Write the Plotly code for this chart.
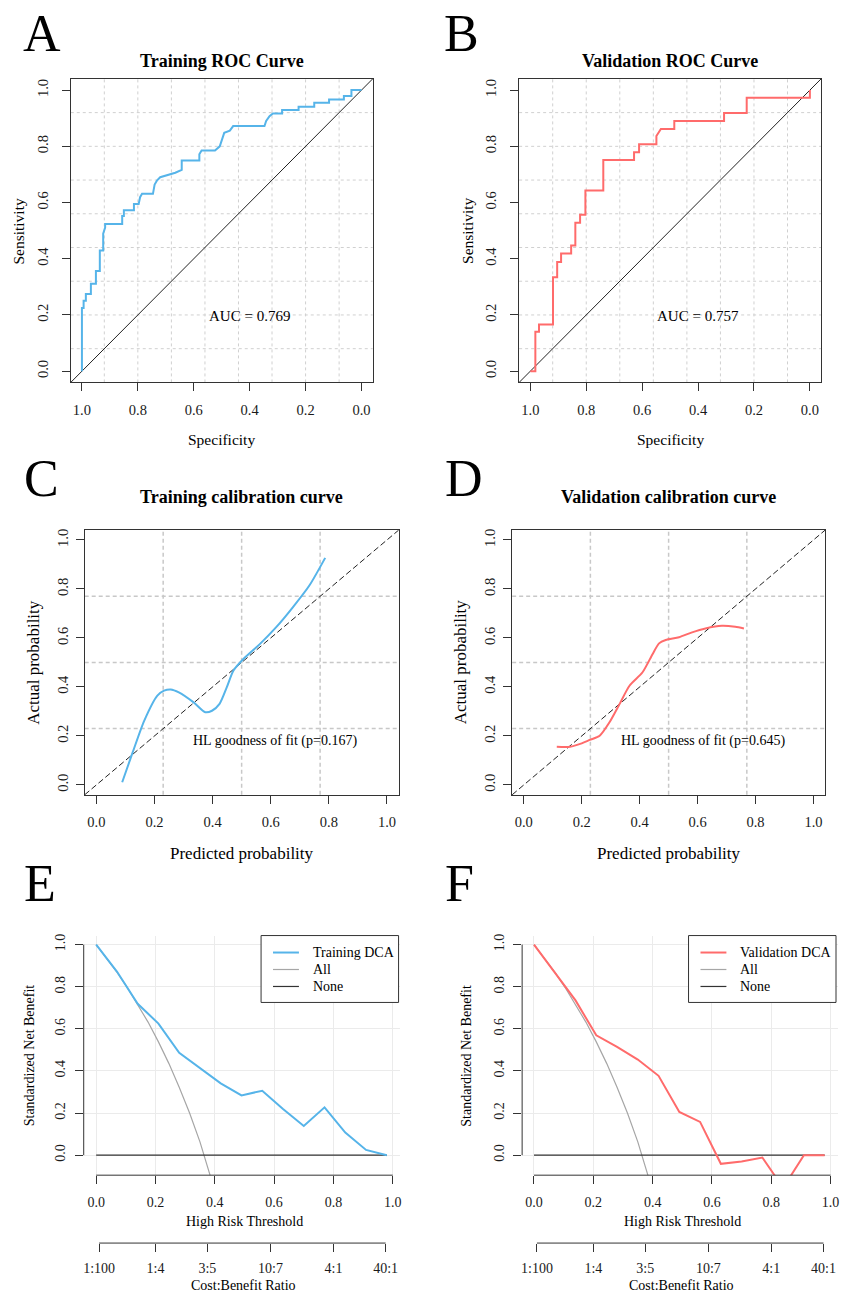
import plotly.graph_objects as go

W, H = 841, 1292
FONT = "Liberation Serif, 'Times New Roman', Times, serif"
BLUE = "#56B4E9"
RED = "#FF6B6B"
GRAY = "#A6A6A6"
NONEC = "#333333"
INK = "#1a1a1a"
AXC = "#333333"

# ---------------- data ----------------
# ROC (specificity, sensitivity)
train_spec = [1.0, 1.0, 0.994, 0.994, 0.986, 0.986, 0.968, 0.968, 0.950, 0.950, 0.936, 0.936,
              0.924, 0.924, 0.917, 0.917, 0.856, 0.856, 0.850, 0.850, 0.814, 0.814, 0.797, 0.792,
              0.785, 0.746, 0.740, 0.731, 0.720, 0.684, 0.666, 0.643, 0.643, 0.580, 0.580, 0.572,
              0.524, 0.507, 0.501, 0.497, 0.491, 0.471, 0.465, 0.459, 0.347, 0.341, 0.329, 0.317,
              0.284, 0.284, 0.225, 0.225, 0.169, 0.169, 0.116, 0.116, 0.063, 0.063, 0.036, 0.036, 0.0]
train_sens = [0.0, 0.225, 0.225, 0.251, 0.251, 0.275, 0.275, 0.311, 0.311, 0.356, 0.356, 0.429,
              0.429, 0.489, 0.511, 0.524, 0.524, 0.552, 0.552, 0.573, 0.573, 0.595, 0.595, 0.619,
              0.631, 0.631, 0.664, 0.679, 0.690, 0.700, 0.706, 0.716, 0.750, 0.750, 0.772, 0.785,
              0.785, 0.800, 0.818, 0.830, 0.848, 0.856, 0.866, 0.872, 0.872, 0.890, 0.907, 0.917,
              0.917, 0.929, 0.929, 0.941, 0.941, 0.955, 0.955, 0.967, 0.967, 0.979, 0.979, 1.0, 1.0]
val_spec = [1.0, 0.982, 0.982, 0.969, 0.969, 0.919, 0.919, 0.904, 0.904, 0.890, 0.890, 0.854,
            0.854, 0.839, 0.839, 0.822, 0.822, 0.803, 0.803, 0.739, 0.739, 0.629, 0.629, 0.611,
            0.611, 0.549, 0.549, 0.533, 0.485, 0.485, 0.307, 0.307, 0.226, 0.226, 0.0, 0.0]
val_sens = [0.0, 0.0, 0.140, 0.140, 0.166, 0.166, 0.334, 0.334, 0.388, 0.388, 0.419, 0.419,
            0.447, 0.447, 0.528, 0.528, 0.557, 0.557, 0.643, 0.643, 0.751, 0.751, 0.779, 0.779,
            0.807, 0.807, 0.837, 0.862, 0.862, 0.890, 0.890, 0.919, 0.919, 0.973, 0.973, 1.0]
train_auc = "0.769"
val_auc = "0.757"
roc_ticks = [0.0, 0.2, 0.4, 0.6, 0.8, 1.0]
roc_grid = [0.08, 0.20, 0.32, 0.44, 0.56, 0.68, 0.80, 0.92]

# Calibration (predicted, observed)
train_cal_pred = [0.089, 0.125, 0.165, 0.210, 0.233, 0.256, 0.284, 0.335, 0.375, 0.398, 0.424,
                  0.449, 0.472, 0.506, 0.5625, 0.619, 0.676, 0.733, 0.7875]
train_cal_obs = [0.011, 0.133, 0.263, 0.365, 0.385, 0.390, 0.378, 0.337, 0.297, 0.303, 0.331,
                 0.399, 0.467, 0.514, 0.575, 0.644, 0.725, 0.814, 0.927]
val_cal_pred = [0.114, 0.160, 0.200, 0.228, 0.262, 0.296, 0.331, 0.365, 0.410, 0.445, 0.467,
                0.490, 0.536, 0.581, 0.627, 0.684, 0.730, 0.760]
val_cal_obs = [0.156, 0.156, 0.170, 0.184, 0.201, 0.256, 0.331, 0.405, 0.460, 0.535, 0.578,
               0.592, 0.603, 0.623, 0.639, 0.650, 0.646, 0.639]
train_hl_p = "0.167"
val_hl_p = "0.645"
cal_ticks = [0.0, 0.2, 0.4, 0.6, 0.8, 1.0]
cal_grid = [0.23, 0.50, 0.77]

# Decision curves (standardized net benefit)
dca_thresh = [0.0, 0.07, 0.14, 0.21, 0.28, 0.35, 0.42, 0.49, 0.56, 0.63, 0.70, 0.77, 0.84, 0.91, 0.98]
train_dca = [1.0, 0.872, 0.719, 0.625, 0.486, 0.415, 0.341, 0.284, 0.306, 0.219, 0.139, 0.227,
             0.107, 0.025, 0.0]
val_dca = [1.0, 0.869, 0.735, 0.569, 0.514, 0.454, 0.377, 0.205, 0.158, -0.041, -0.030, -0.011,
           -0.155, 0.0, 0.0]
none_nb = [0.0] * len(dca_thresh)
all_thresh = [0.0, 0.035, 0.07, 0.105, 0.14, 0.175, 0.21, 0.245, 0.28, 0.315, 0.35, 0.385, 0.42]
train_all = [1.0, 0.937, 0.869, 0.796, 0.717, 0.632, 0.538, 0.436, 0.323, 0.200, 0.063, -0.091, -0.262]
val_all = [1.0, 0.937, 0.869, 0.796, 0.717, 0.632, 0.538, 0.436, 0.323, 0.200, 0.063, -0.091, -0.262]
dca_ticks = [0.0, 0.2, 0.4, 0.6, 0.8, 1.0]
cb_labels = ["1:100", "1:4", "3:5", "10:7", "4:1", "40:1"]
cb_thresh = [0.0099, 0.2, 0.375, 0.588, 0.8, 0.976]

# ---------------- layout helpers ----------------
def dom_x(a, b):
    return [a / W, b / W]

def dom_y(a, b):
    return [1 - b / H, 1 - a / H]

def px(xp):
    return xp / W

def py(yp):
    return 1 - yp / H

fig = go.Figure()

# ROC
for i, (sx, sy, col) in enumerate([(train_spec, train_sens, BLUE), (val_spec, val_sens, RED)], start=1):
    fig.add_trace(go.Scatter(x=sx, y=sy, mode="lines", line=dict(color=col, width=2),
                             xaxis=f"x{i}" if i > 1 else "x", yaxis=f"y{i}" if i > 1 else "y",
                             showlegend=False, hoverinfo="skip"))

# Calibration
for i, (cx, cy, col) in zip([3, 4], [(train_cal_pred, train_cal_obs, BLUE), (val_cal_pred, val_cal_obs, RED)]):
    fig.add_trace(go.Scatter(x=cx, y=cy, mode="lines", line=dict(color=col, width=2, shape="spline", smoothing=0.7),
                             xaxis=f"x{i}", yaxis=f"y{i}", showlegend=False, hoverinfo="skip"))

# DCA
dca_legends = {}
for i, name, yv, av, col in [(5, "Training DCA", train_dca, train_all, BLUE),
                             (6, "Validation DCA", val_dca, val_all, RED)]:
    fig.add_trace(go.Scatter(x=all_thresh, y=av, mode="lines", name="All",
                             line=dict(color=GRAY, width=1.2), xaxis=f"x{i}", yaxis=f"y{i}",
                             showlegend=False, hoverinfo="skip"))
    fig.add_trace(go.Scatter(x=dca_thresh, y=none_nb, mode="lines", name="None",
                             line=dict(color=NONEC, width=1.2), xaxis=f"x{i}", yaxis=f"y{i}",
                             showlegend=False, hoverinfo="skip"))
    fig.add_trace(go.Scatter(x=dca_thresh, y=yv, mode="lines", name=name,
                             line=dict(color=col, width=2), xaxis=f"x{i}", yaxis=f"y{i}",
                             showlegend=False, hoverinfo="skip"))
    dca_legends[i] = [(name, col, 2), ("All", GRAY, 1.2), ("None", NONEC, 1.2)]

# cost:benefit helper axes
for ax, base in [(7, 5), (8, 6)]:
    fig.add_trace(go.Scatter(x=cb_thresh, y=[None] * len(cb_thresh), mode="lines", xaxis=f"x{ax}",
                             yaxis=f"y{base}", showlegend=False, hoverinfo="skip"))

tickfont = dict(family=FONT, size=14.5, color=INK)

boxes = {
    1: ((70, 373), (77, 381)),
    2: ((520, 823), (77, 381)),
    3: ((84, 399), (529, 794)),
    4: ((513, 827), (529, 794)),
    5: ((83, 400), (935, 1175)),
    6: ((523, 840), (935, 1175)),
}

lay = {}
for i, ((x0, x1), (y0, y1)) in boxes.items():
    xn = "xaxis" if i == 1 else f"xaxis{i}"
    yn = "yaxis" if i == 1 else f"yaxis{i}"
    xa = "x" if i == 1 else f"x{i}"
    ya = "y" if i == 1 else f"y{i}"
    xcfg = dict(domain=dom_x(x0, x1), anchor=ya, ticks="outside", ticklen=8, tickwidth=1,
                tickcolor=AXC, tickfont=tickfont, zeroline=False, showgrid=False,
                tickformat=".1f", ticklabelstandoff=6)
    ycfg = dict(domain=dom_y(y0, y1), anchor=xa, ticks="outside", ticklen=8, tickwidth=1,
                tickcolor=AXC, tickfont=tickfont, zeroline=False, showgrid=False,
                tickformat=".1f", tickangle=-90, ticklabelstandoff=8)
    if i in (1, 2):
        xcfg.update(range=[1.04, -0.04], tickvals=roc_ticks, showline=True, mirror=True,
                    linecolor=AXC, linewidth=1)
        ycfg.update(range=[-0.04, 1.04], tickvals=roc_ticks, showline=True, mirror=True,
                    linecolor=AXC, linewidth=1)
    elif i in (3, 4):
        xcfg.update(range=[-0.04, 1.04], tickvals=cal_ticks, showline=True, mirror=True,
                    linecolor=AXC, linewidth=1, ticklabelstandoff=6)
        ycfg.update(range=[-0.04, 1.04], tickvals=cal_ticks, showline=True, mirror=True,
                    linecolor=AXC, linewidth=1, ticklabelstandoff=2)
    else:
        xr = [-0.042, 1.023] if i == 5 else [-0.040, 1.025]
        xcfg.update(range=xr, tickvals=dca_ticks, showline=False, showgrid=True,
                    gridcolor="#EBEBEB", gridwidth=1, tickfont=dict(family=FONT, size=14, color=INK),
                    ticklabelstandoff=6)
        ycfg.update(range=[-0.095, 1.043], tickvals=dca_ticks, showline=False, showgrid=True,
                    gridcolor="#EBEBEB", gridwidth=1, tickfont=dict(family=FONT, size=14, color=INK),
                    ticklabelstandoff=4)
    lay[xn] = xcfg
    lay[yn] = ycfg

for ax, base in [(7, 5), (8, 6)]:
    lay[f"xaxis{ax}"] = dict(overlaying=f"x{base}", anchor="free", position=py(1243),
                             domain=lay[f"xaxis{base}"]["domain"], range=lay[f"xaxis{base}"]["range"],
                             tickvals=cb_thresh, ticktext=cb_labels, ticks="outside", ticklen=8,
                             tickcolor=AXC, showline=False, showgrid=False, zeroline=False,
                             tickfont=dict(family=FONT, size=14, color=INK), ticklabelstandoff=4)

fig.update_layout(**lay)

shapes = []
# ROC grids and diagonals
for i in (1, 2):
    xr = "x" if i == 1 else f"x{i}"
    yr = "y" if i == 1 else f"y{i}"
    for g in roc_grid:
        shapes.append(dict(type="line", xref=xr, yref=f"{yr} domain", x0=g, x1=g, y0=0, y1=1,
                           line=dict(color="#D0D0D0", width=1, dash="dot"), layer="below"))
        shapes.append(dict(type="line", xref=f"{xr} domain", yref=yr, x0=0, x1=1, y0=g, y1=g,
                           line=dict(color="#D0D0D0", width=1, dash="dot"), layer="below"))
    shapes.append(dict(type="line", xref=f"{xr} domain", yref=f"{yr} domain", x0=0, y0=0, x1=1, y1=1,
                       line=dict(color="#222222", width=1), layer="below"))
# Calibration grids and diagonals
for i in (3, 4):
    for g in cal_grid:
        shapes.append(dict(type="line", xref=f"x{i}", yref=f"y{i} domain", x0=g, x1=g, y0=0, y1=1,
                           line=dict(color="#C8C8C8", width=1.5, dash="4px,3px"), layer="below"))
        shapes.append(dict(type="line", xref=f"x{i} domain", yref=f"y{i}", x0=0, x1=1, y0=g, y1=g,
                           line=dict(color="#C8C8C8", width=1.5, dash="4px,3px"), layer="below"))
    shapes.append(dict(type="line", xref=f"x{i} domain", yref=f"y{i} domain", x0=0, y0=0, x1=1, y1=1,
                       line=dict(color="#222222", width=1, dash="6px,3px"), layer="below"))
# DCA axis lines
for i in (5, 6):
    shapes.append(dict(type="line", xref=f"x{i}", yref=f"y{i} domain", x0=dca_ticks[0], x1=dca_ticks[-1],
                       y0=0, y1=0, line=dict(color=AXC, width=1)))
    shapes.append(dict(type="line", xref=f"x{i} domain", yref=f"y{i}", x0=0, x1=0,
                       y0=dca_ticks[0], y1=dca_ticks[-1], line=dict(color=AXC, width=1)))
    shapes.append(dict(type="line", xref=f"x{i}", yref="paper", x0=cb_thresh[0], x1=cb_thresh[-1],
                       y0=py(1243), y1=py(1243), line=dict(color=AXC, width=1)))

ann = []

def text(x, y, s, size, bold=False, angle=0, xanchor="center", xref="paper", yref="paper"):
    ann.append(dict(x=x, y=y, xref=xref, yref=yref, text=f"<b>{s}</b>" if bold else s,
                    showarrow=False, textangle=angle, xanchor=xanchor, yanchor="middle",
                    font=dict(family=FONT, size=size, color="#000000")))

# manual legends (R style box legend, top-right of DCA panels)
legend_boxes = {5: (261, 399), 6: (690, 838)}
for i, (lx0, lx1) in legend_boxes.items():
    shapes.append(dict(type="rect", xref="paper", yref="paper", x0=px(lx0), x1=px(lx1),
                       y0=py(1002), y1=py(935), line=dict(color="#333333", width=1),
                       fillcolor="white", layer="above"))
    for k, (nm, col, wd) in enumerate(dca_legends[i]):
        yy = 952 + 17 * k
        shapes.append(dict(type="line", xref="paper", yref="paper", x0=px(lx0 + 12), x1=px(lx0 + 38),
                           y0=py(yy), y1=py(yy), line=dict(color=col, width=wd), layer="above"))
        text(px(lx0 + 50), py(yy), nm, 14, xanchor="left")

# panel letters
for s, xp, yp in [("A", 20, 32), ("B", 443, 32), ("C", 21, 477), ("D", 444, 477),
                  ("E", 21, 883), ("F", 444, 883)]:
    text(px(xp), py(yp), s, 52, xanchor="left")

# titles
text(px(221.5), py(59), "Training ROC Curve", 18, bold=True)
text(px(671.5), py(59), "Validation ROC Curve", 18, bold=True)
text(px(241.5), py(496), "Training calibration curve", 18, bold=True)
text(px(670), py(496), "Validation calibration curve", 18, bold=True)

# axis titles
text(px(221.5), py(438), "Specificity", 15.5)
text(px(671.5), py(438), "Specificity", 15.5)
text(px(18), py(229), "Sensitivity", 15.5, angle=-90)
text(px(468), py(229), "Sensitivity", 15.5, angle=-90)
text(px(241.5), py(853), "Predicted probability", 17)
text(px(670), py(853), "Predicted probability", 17)
text(px(33), py(661), "Actual probability", 17, angle=-90)
text(px(462), py(661), "Actual probability", 17, angle=-90)
text(px(244.5), py(1221), "High Risk Threshold", 14)
text(px(684), py(1221), "High Risk Threshold", 14)
text(px(243), py(1285), "Cost:Benefit Ratio", 14)
text(px(683), py(1285), "Cost:Benefit Ratio", 14)
text(px(28), py(1055), "Standardized Net Benefit", 14, angle=-90)
text(px(467), py(1055), "Standardized Net Benefit", 14, angle=-90)

# in-plot labels
text(0.40, 0.196, f"AUC = {train_auc}", 15, xref="x", yref="y")
text(0.40, 0.196, f"AUC = {val_auc}", 15, xref="x2", yref="y2")
text(0.615, 0.181, f"HL goodness of fit (p={train_hl_p})", 14, xref="x3", yref="y3")
text(0.619, 0.181, f"HL goodness of fit (p={val_hl_p})", 14, xref="x4", yref="y4")

fig.update_layout(
    width=W, height=H, margin=dict(l=0, r=0, t=0, b=0),
    paper_bgcolor="white", plot_bgcolor="white",
    shapes=shapes, annotations=ann, showlegend=False,
    font=dict(family=FONT),
)

fig.write_html("out.html", config={"displayModeBar": False},
               post_script="document.body.style.margin='0';document.body.style.overflow='hidden';")
